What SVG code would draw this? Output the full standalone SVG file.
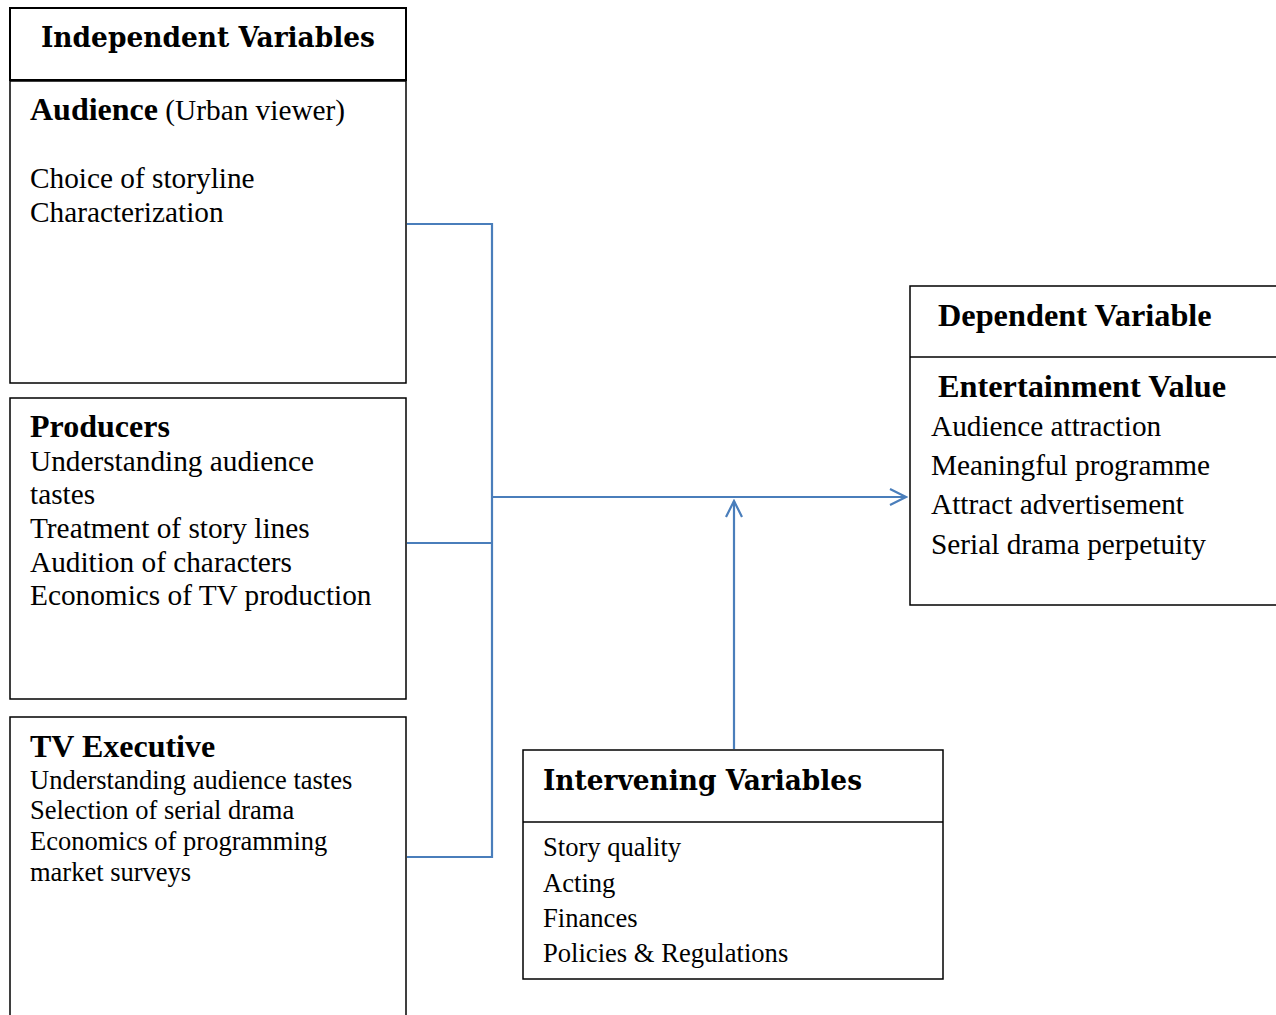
<svg xmlns="http://www.w3.org/2000/svg" width="1276" height="1015" viewBox="0 0 1276 1015">
<style>
.box{fill:#fff;stroke:#000;stroke-width:1.5}
.hbox{fill:#fff;stroke:#000;stroke-width:2}
.t{font-family:"Liberation Serif","Times New Roman",serif;fill:#000}
.b{font-weight:bold}
.c{font-family:"DejaVu Serif","Liberation Serif",serif;fill:#000}
.conn{fill:none;stroke:#4a7ebb;stroke-width:2.2}
</style>
<defs>
<marker id="arr" viewBox="0 0 20 20" refX="18" refY="10" markerWidth="20" markerHeight="20" markerUnits="userSpaceOnUse" orient="auto">
<path d="M2,2 L18,10 L2,18" fill="none" stroke="#4a7ebb" stroke-width="2.2"/>
</marker>
</defs>
<rect width="1276" height="1015" fill="#fff"/>
<g id="independent-header">
<rect class="hbox" x="10" y="8" width="396" height="72"/>
<text class="c b" x="41" y="47" font-size="27" textLength="334" lengthAdjust="spacingAndGlyphs">Independent Variables</text>
</g>
<g id="audience">
<rect class="box" x="10" y="81" width="396" height="302"/>
<text class="t" x="30" y="120" font-size="32"><tspan class="b">Audience</tspan><tspan font-size="29.3"> (Urban viewer)</tspan></text>
<text class="t" x="30" y="188" font-size="29.3">Choice of storyline</text>
<text class="t" x="30" y="222" font-size="29.3">Characterization</text>
</g>
<g id="producers">
<rect class="box" x="10" y="398" width="396" height="301"/>
<text class="t b" x="30" y="437" font-size="32">Producers</text>
<text class="t" x="30" y="471" font-size="29.3">Understanding audience</text>
<text class="t" x="30" y="504" font-size="29.3">tastes</text>
<text class="t" x="30" y="538" font-size="29.3">Treatment of story lines</text>
<text class="t" x="30" y="572" font-size="29.3">Audition of characters</text>
<text class="t" x="30" y="605" font-size="29.3">Economics of TV production</text>
</g>
<g id="tv-executive">
<rect class="box" x="10" y="717" width="396" height="310"/>
<text class="t b" x="30" y="757" font-size="32">TV Executive</text>
<text class="t" x="30" y="789" font-size="26.5">Understanding audience tastes</text>
<text class="t" x="30" y="819" font-size="26.5">Selection of serial drama</text>
<text class="t" x="30" y="850" font-size="26.5">Economics of programming</text>
<text class="t" x="30" y="881" font-size="26.5">market surveys</text>
</g>
<g id="dependent">
<rect class="box" x="910" y="286" width="380" height="319"/>
<line x1="910" y1="357" x2="1276" y2="357" stroke="#000" stroke-width="1.5"/>
<text class="t b" x="938" y="326" font-size="32.3">Dependent Variable</text>
<text class="t b" x="938" y="397" font-size="32.3">Entertainment Value</text>
<text class="t" x="931" y="436" font-size="29.3">Audience attraction</text>
<text class="t" x="931" y="475" font-size="29.3">Meaningful programme</text>
<text class="t" x="931" y="514" font-size="29.3">Attract advertisement</text>
<text class="t" x="931" y="554" font-size="29.3">Serial drama perpetuity</text>
</g>
<g id="intervening">
<rect class="box" x="523" y="750" width="420" height="229"/>
<line x1="523" y1="822" x2="943" y2="822" stroke="#000" stroke-width="1.5"/>
<text class="c b" x="543" y="790" font-size="27" textLength="319" lengthAdjust="spacingAndGlyphs">Intervening Variables</text>
<text class="t" x="543" y="856" font-size="26.6">Story quality</text>
<text class="t" x="543" y="892" font-size="26.6">Acting</text>
<text class="t" x="543" y="927" font-size="26.6">Finances</text>
<text class="t" x="543" y="962" font-size="26.6">Policies &amp; Regulations</text>
</g>
<g id="connectors">
<path class="conn" d="M407,224 H492 V857 H407"/>
<path class="conn" d="M407,543 H492"/>
<path class="conn" d="M492,497 H906" marker-end="url(#arr)"/>
<path class="conn" d="M734,749 V501" marker-end="url(#arr)"/>
</g>
</svg>
